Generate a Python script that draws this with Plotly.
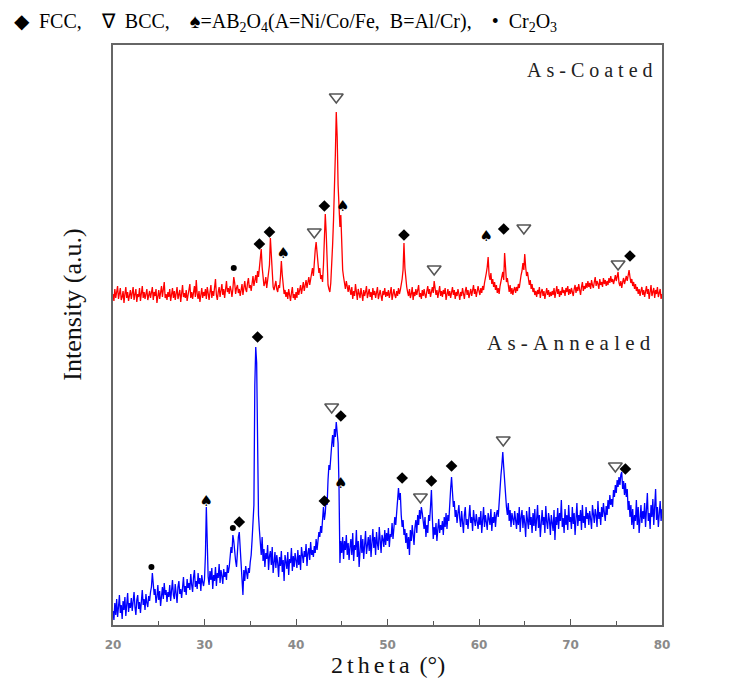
import numpy as np
import plotly.graph_objects as go

# 2theta grid (0.1 deg steps, 20..80)
two_theta = np.round(np.arange(20.0, 80.0001, 0.1), 1)

# As-Coated intensity (arbitrary units, offset pattern), one row = 2 degrees
coated = [
    331, 324, 336, 327, 333, 339, 326, 330, 337, 325, 328, 334, 322, 331, 338, 327, 333, 324, 330, 335,
    326, 333, 338, 325, 330, 336, 323, 331, 328, 337, 324, 332, 339, 327, 333, 326, 331, 336, 325, 330,
    334, 327, 331, 338, 325, 333, 329, 336, 322, 331, 335, 326, 332, 339, 328, 334, 343, 327, 331, 325,
    333, 328, 336, 324, 330, 337, 327, 334, 325, 332, 338, 326, 331, 335, 323, 333, 340, 328, 332, 327,
    335, 324, 331, 338, 341, 327, 333, 326, 332, 339, 328, 345, 331, 326, 334, 323, 330, 337, 327, 333,
    329, 336, 326, 338, 332, 325, 333, 340, 327, 334, 329, 336, 346, 330, 325, 333, 338, 328, 335, 341,
    330, 336, 327, 340, 344, 333, 337, 331, 339, 335, 328, 336, 348, 342, 331, 337, 340, 332, 336, 329,
    335, 341, 330, 338, 344, 336, 333, 342, 347, 337, 340, 334, 343, 349, 339, 345, 350, 342, 354, 348,
    356, 365, 376, 358, 344, 339, 342, 348, 337, 345, 352, 360, 387, 366, 343, 338, 335, 340, 344, 336,
    333, 340, 337, 348, 364, 350, 338, 331, 335, 328, 333, 326, 336, 330, 324, 332, 338, 327, 331, 325,
    333, 327, 337, 330, 335, 340, 331, 337, 343, 334, 339, 345, 337, 342, 348, 340, 346, 352, 357, 349,
    366, 375, 383, 370, 360, 352, 357, 346, 350, 343, 360, 384, 411, 392, 365, 340, 336, 333, 342, 358,
    380, 405, 430, 470, 513, 488, 440, 412, 398, 410, 378, 355, 348, 342, 336, 344, 338, 333, 340, 335,
    330, 338, 326, 334, 329, 341, 333, 325, 336, 331, 327, 337, 332, 324, 335, 329, 333, 339, 327, 331,
    336, 328, 333, 325, 337, 330, 334, 327, 332, 338, 326, 331, 335, 329, 324, 334, 330, 337, 328, 333,
    329, 335, 327, 332, 338, 325, 331, 336, 330, 327, 334, 329, 337, 331, 335, 340, 346, 355, 382, 357,
    344, 338, 333, 329, 336, 327, 331, 338, 325, 333, 329, 336, 330, 334, 340, 328, 332, 326, 335, 329,
    336, 330, 327, 334, 339, 331, 336, 328, 333, 338, 332, 344, 337, 330, 335, 327, 333, 339, 329, 334,
    328, 335, 331, 337, 325, 332, 336, 329, 334, 327, 331, 338, 330, 335, 326, 333, 329, 336, 331, 325,
    333, 329, 337, 331, 326, 334, 338, 330, 335, 327, 332, 336, 329, 334, 340, 331, 336, 328, 333, 339,
    334, 330, 337, 332, 339, 335, 342, 346, 352, 358, 368, 350, 345, 352, 341, 346, 338, 343, 335, 340,
    332, 337, 331, 339, 343, 348, 353, 345, 372, 358, 343, 347, 338, 333, 340, 331, 337, 330, 335, 338,
    332, 338, 334, 341, 337, 345, 350, 354, 362, 355, 371, 358, 349, 353, 344, 340, 345, 336, 341, 333,
    337, 330, 334, 328, 335, 331, 338, 327, 333, 336, 329, 334, 326, 332, 337, 330, 335, 328, 333, 329,
    334, 330, 337, 327, 333, 339, 331, 336, 328, 334, 330, 338, 332, 335, 329, 337, 333, 339, 330, 336,
    331, 337, 333, 329, 336, 340, 332, 338, 334, 341, 335, 330, 338, 343, 334, 339, 336, 342, 337, 344,
    338, 342, 336, 345, 340, 337, 343, 348, 339, 344, 341, 336, 346, 340, 343, 338, 347, 341, 345, 339,
    344, 340, 347, 342, 349, 343, 346, 341, 345, 350, 344, 348, 353, 342, 339, 344, 337, 343, 347, 341,
    345, 349, 344, 351, 355, 348, 342, 346, 339, 343, 336, 341, 334, 338, 331, 336, 329, 334, 338, 330,
    335, 328, 333, 339, 331, 336, 326, 334, 340, 329, 333, 337, 327, 335, 331, 338, 328, 333, 336, 326,
    331,
]

# As-Annealed intensity, one row = 2 degrees
annealed = [
    14, 5, 22, 10, 26, 8, 18, 30, 12, 20, 6, 24, 15, 28, 9, 19, 32, 13, 22, 17,
    27, 14, 21, 33, 18, 10, 25, 30, 16, 23, 12, 28, 35, 20, 26, 15, 31, 22, 18, 29,
    24, 33, 38, 52, 44, 30, 36, 22, 28, 40, 25, 34, 19, 31, 38, 26, 42, 30, 35, 23,
    33, 28, 40, 24, 37, 45, 30, 26, 41, 34, 22, 38, 44, 31, 36, 27, 43, 48, 33, 39,
    30, 46, 37, 42, 35, 51, 40, 33, 48, 55, 38, 44, 36, 52, 41, 47, 34, 50, 43, 39,
    46, 70, 118, 62, 48, 40, 54, 45, 57, 36, 50, 44, 58, 39, 52, 47, 61, 42, 55, 49,
    41, 56, 48, 53, 45, 60, 52, 58, 66, 78, 72, 90, 84, 70, 64, 58, 75, 88, 93, 74,
    62, 48, 30, 55, 44, 59, 50, 46, 57, 52, 63, 70, 85, 105, 120, 240, 278, 262, 180, 110,
    95, 82, 70, 88, 64, 76, 58, 72, 66, 80, 55, 69, 74, 60, 78, 52, 67, 73, 57, 70,
    62, 48, 68, 59, 74, 53, 65, 44, 70, 61, 56, 73, 50, 66, 62, 77, 54, 69, 58, 72,
    64, 57, 75, 60, 70, 55, 78, 66, 62, 74, 68, 81, 59, 72, 77, 65, 83, 70, 75, 68,
    79, 72, 86, 75, 82, 93, 88, 99, 92, 110, 118, 105, 112, 128, 120, 145, 160, 155, 172, 180,
    190, 178, 196, 188, 203, 195, 182, 138, 62, 84, 72, 88, 66, 84, 75, 90, 70, 82, 65, 78,
    86, 70, 92, 64, 80, 75, 95, 68, 84, 58, 78, 90, 72, 86, 66, 82, 94, 71, 79, 88,
    74, 90, 68, 84, 96, 77, 88, 70, 93, 81, 75, 98, 83, 72, 90, 86, 78, 95, 80, 92,
    84, 97, 78, 91, 88, 102, 86, 95, 108, 100, 112, 128, 137, 125, 132, 110, 98, 105, 90, 96,
    82, 92, 76, 88, 70, 95, 84, 100, 90, 80, 98, 105, 92, 110, 100, 115, 106, 118, 112, 104,
    96, 108, 88, 100, 92, 110, 104, 118, 135, 108, 86, 98, 90, 102, 84, 96, 106, 92, 100, 95,
    104, 90, 108, 98, 112, 96, 110, 104, 125, 136, 148, 130, 118, 124, 108, 115, 102, 112, 120, 106,
    98, 114, 104, 92, 110, 118, 100, 106, 96, 112, 120, 102, 108, 94, 115, 105, 99, 111, 103, 96,
    108, 100, 114, 92, 105, 118, 98, 110, 103, 95, 112, 106, 100, 116, 94, 108, 102, 113, 98, 110,
    115, 108, 125, 135, 150, 160, 173, 158, 140, 125, 118, 110, 122, 104, 115, 98, 112, 106, 100, 114,
    105, 96, 112, 100, 118, 93, 108, 115, 97, 110, 102, 88, 114, 105, 96, 118, 100, 108, 92, 112,
    99, 116, 94, 106, 120, 97, 110, 88, 104, 115, 100, 108, 92, 119, 103, 96, 112, 105, 90, 110,
    102, 94, 115, 85, 108, 100, 117, 96, 112, 104, 125, 98, 107, 92, 116, 100, 110, 95, 120, 103,
    108, 96, 118, 101, 112, 90, 106, 122, 99, 110, 104, 115, 95, 120, 102, 109, 97, 118, 106, 112,
    100, 114, 106, 96, 120, 108, 102, 116, 110, 98, 124, 106, 113, 100, 118, 108, 122, 112, 104, 119,
    110, 125, 116, 130, 120, 126, 118, 135, 128, 140, 132, 145, 138, 148, 140, 150, 153, 136, 144, 130,
    142, 128, 136, 115, 124, 108, 120, 100, 116, 96, 110, 104, 125, 100, 118, 92, 108, 120, 102, 114,
    106, 122, 98, 115, 132, 104, 112, 96, 120, 108, 126, 100, 114, 136, 105, 118, 98, 112, 124, 104,
    116,
]

assert len(coated) == len(two_theta), len(coated)
assert len(annealed) == len(two_theta), len(annealed)

# Phase markers: As-Coated
coated_fcc_x = [36.0, 37.1, 43.1, 51.8, 62.7, 76.5]
coated_fcc_y = [381, 393, 419, 390, 396, 369]
coated_bcc_x = [42.0, 44.4, 55.1, 64.9, 75.2]
coated_bcc_y = [393, 528, 356, 397, 361]
coated_spinel_x = [38.6, 45.1, 60.8]
coated_spinel_y = [371, 418, 388]
coated_cr2o3_x = [33.2]
coated_cr2o3_y = [357]

# Phase markers: As-Annealed
annealed_fcc_x = [33.8, 35.8, 43.1, 44.9, 51.6, 54.8, 57.0, 76.0]
annealed_fcc_y = [103, 288, 124, 209, 147, 144, 159, 156]
annealed_bcc_x = [43.9, 53.6, 62.65, 74.9]
annealed_bcc_y = [218, 128, 185, 159]
annealed_spinel_x = [30.2, 44.9]
annealed_spinel_y = [123, 141]
annealed_cr2o3_x = [24.2, 33.1]
annealed_cr2o3_y = [58, 97]

x_tick_vals = [20, 30, 40, 50, 60, 70, 80]
x_tick_text = ["20", "30", "40", "50", "60", "70", "80"]
right_tick_vals = [72, 217, 502, 539]

fig = go.Figure()
fig.add_trace(go.Scatter(x=two_theta, y=coated, mode="lines",
                         line=dict(color="#ff0000", width=1.3), showlegend=False))
fig.add_trace(go.Scatter(x=two_theta, y=annealed, mode="lines",
                         line=dict(color="#0000ff", width=1.3), showlegend=False))

fig.add_trace(go.Scatter(x=coated_fcc_x + annealed_fcc_x, y=coated_fcc_y + annealed_fcc_y,
                         mode="markers", marker=dict(symbol="diamond", size=9, color="black"),
                         showlegend=False))
fig.add_trace(go.Scatter(x=coated_bcc_x + annealed_bcc_x, y=coated_bcc_y + annealed_bcc_y,
                         mode="markers",
                         marker=dict(symbol="triangle-down-open", size=12, color="#555555",
                                     line=dict(width=1.6, color="#555555")),
                         showlegend=False))
fig.add_trace(go.Scatter(x=coated_spinel_x + annealed_spinel_x, y=coated_spinel_y + annealed_spinel_y,
                         mode="text", text=["♠"] * (len(coated_spinel_x) + len(annealed_spinel_x)),
                         textfont=dict(family="DejaVu Sans", size=15, color="black"),
                         textposition="middle center", showlegend=False))
fig.add_trace(go.Scatter(x=coated_cr2o3_x + annealed_cr2o3_x, y=coated_cr2o3_y + annealed_cr2o3_y,
                         mode="markers", marker=dict(symbol="circle", size=6, color="black"),
                         showlegend=False))

fig.update_layout(
    width=723, height=678,
    margin=dict(l=105, r=69, t=37, b=61),
    paper_bgcolor="white", plot_bgcolor="white",
    xaxis=dict(range=[20, 80], tickvals=x_tick_vals, ticktext=x_tick_text,
               ticks="inside", ticklen=6, tickwidth=1.3, tickcolor="#555555",
               minor=dict(dtick=5, tick0=20, ticks="inside", ticklen=4, tickcolor="#555555", tickwidth=1.2),
               showline=True, linecolor="#666666", linewidth=1.6, mirror=True,
               showgrid=False, zeroline=False, ticklabelstandoff=8,
               tickfont=dict(family="DejaVu Sans", size=12, color="#8a8a8a", weight="bold")),
    yaxis=dict(range=[0, 580], showticklabels=False, ticks="",
               showline=True, linecolor="#666666", linewidth=1.6, mirror=True,
               showgrid=False, zeroline=False),
    yaxis2=dict(range=[0, 580], overlaying="y", side="right", showticklabels=False,
                tickvals=right_tick_vals, ticks="inside", ticklen=4, tickcolor="#555555",
                showline=False, showgrid=False, zeroline=False),
    showlegend=False,
)

serif = "Liberation Serif, Times New Roman, serif"
fig.add_annotation(xref="paper", yref="paper", x=-0.184, y=1.038, xanchor="left", yanchor="middle",
                   showarrow=False,
                   text="◆\u2002FCC,\u2003∇\u2002BCC,\u2003♠=AB<sub>2</sub>O<sub>4</sub>(A=Ni/Co/Fe,\u2002B=Al/Cr),\u2003•\u2002Cr<sub>2</sub>O<sub>3</sub>",
                   font=dict(family=serif, size=20, color="black"))
fig.add_annotation(xref="paper", yref="paper", x=0.987, y=0.957, xanchor="right", yanchor="middle",
                   showarrow=False, text="A\u2005s\u2005-\u2005C\u2005o\u2005a\u2005t\u2005e\u2005d",
                   font=dict(family=serif, size=20, color="#222222"))
fig.add_annotation(xref="paper", yref="paper", x=0.984, y=0.486, xanchor="right", yanchor="middle",
                   showarrow=False, text="A\u2005s\u2005-\u2005A\u2005n\u2005n\u2005e\u2005a\u2005l\u2005e\u2005d",
                   font=dict(family=serif, size=21, color="#222222"))
fig.add_annotation(xref="paper", yref="paper", x=-0.074, y=0.553, xanchor="center", yanchor="middle",
                   showarrow=False, textangle=-90, text="Intensity (a.u.)",
                   font=dict(family=serif, size=26, color="#111111"))
fig.add_annotation(xref="paper", yref="paper", x=0.501, y=-0.069, xanchor="center", yanchor="middle",
                   showarrow=False, text="2\u2006t\u2006h\u2006e\u2006t\u2006a\u2006 (°)",
                   font=dict(family=serif, size=24, color="#111111"))

fig.write_html("out.html")
